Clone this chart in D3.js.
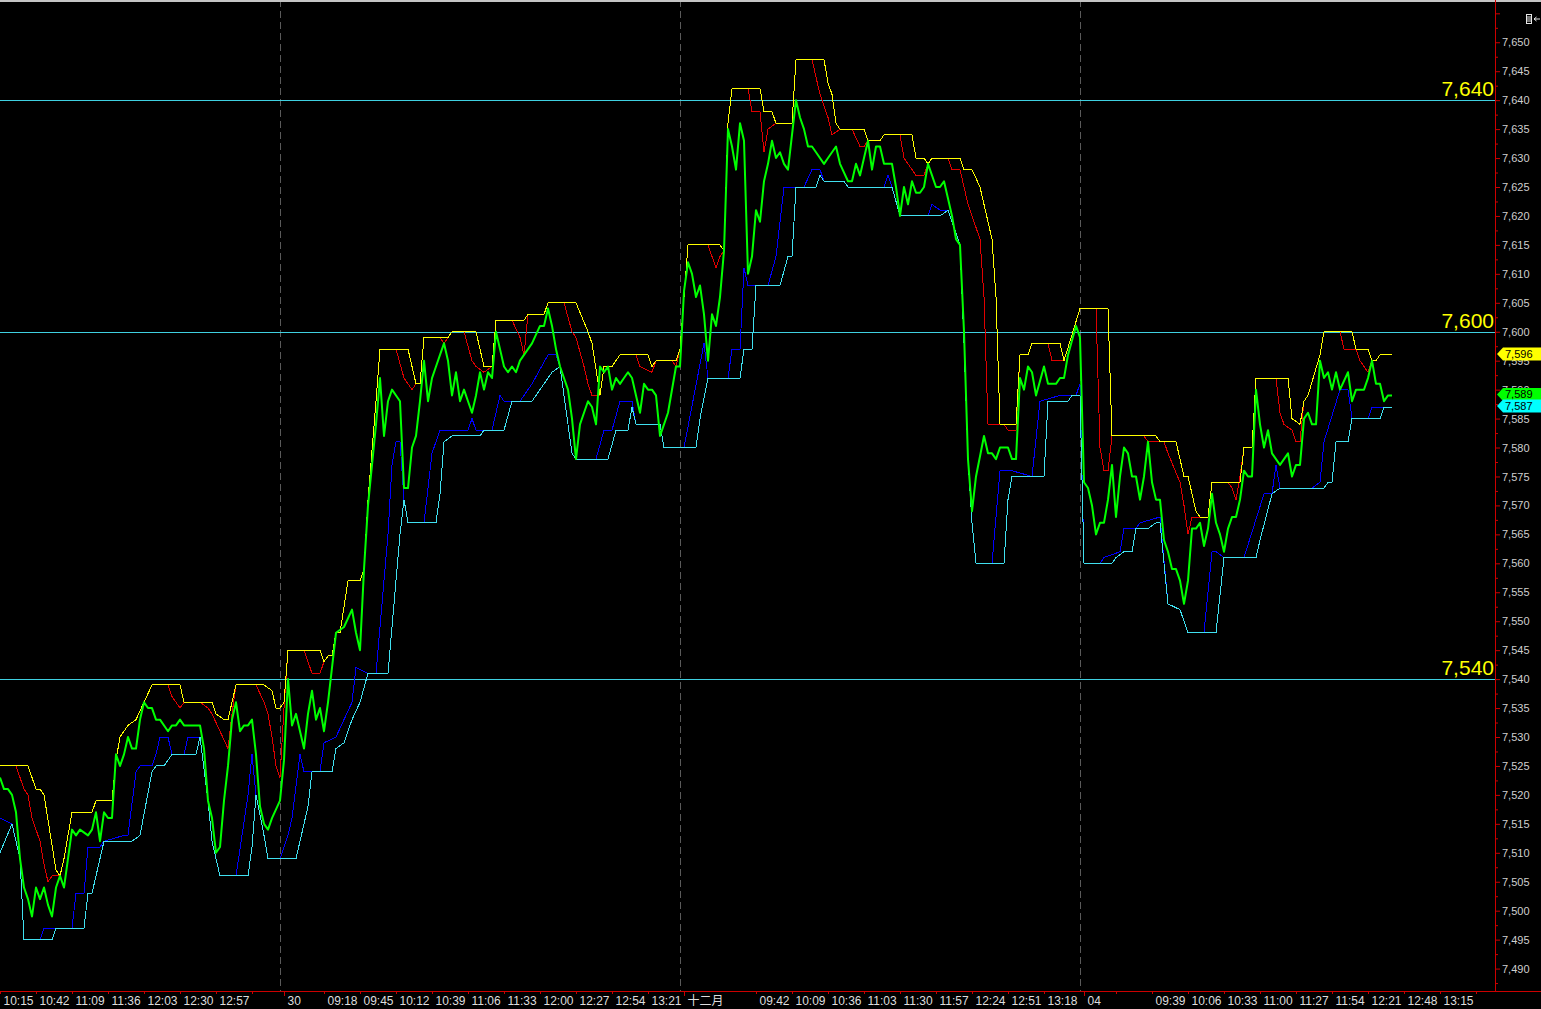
<!DOCTYPE html>
<html><head><meta charset="utf-8">
<script src="https://cdn.jsdelivr.net/npm/d3@7"></script>
<style>html,body{margin:0;padding:0;background:#000;overflow:hidden}</style>
</head><body><svg id="c" width="1541" height="1009"></svg>
<script>
// ---- data: [bar index, value] ; bar 0 = 10:15 on day 1, 3-minute bars ----
const closeSeries = [[0,7523],[1,7521],[2,7521],[3,7520],[4,7517],[5,7509],[6,7504],[7,7502],[8,7499],[9,7504],[10,7502],[11,7504],[12,7501],[13,7499],[14,7504],[15,7506],[16,7504],[17,7509],[18,7514],[19,7513],[20,7514],[22,7513],[23,7514],[24,7517],[25,7512],[26,7517],[27,7516],[28,7516],[29,7527],[30,7525],[31,7527],[32,7530],[33,7528],[34,7528],[35,7533],[36,7536],[37,7535],[38,7535],[39,7533],[40,7533],[42,7531],[43,7532],[44,7532],[45,7533],[46,7532],[47,7532],[49,7532],[50,7532],[51,7528],[52,7519],[53,7516],[54,7510],[55,7511],[56,7519],[57,7525],[58,7533],[59,7536],[60,7531],[61,7532],[62,7532],[63,7533],[64,7527],[65,7518],[66,7515],[67,7514],[68,7516],[70,7519],[71,7526],[72,7540],[73,7532],[74,7534],[75,7531],[76,7528],[77,7534],[78,7538],[79,7533],[80,7535],[81,7531],[82,7536],[83,7542],[84,7548],[86,7549],[88,7552],[89,7548],[90,7545],[91,7559],[92,7570],[94,7584],[95,7592],[96,7582],[97,7588],[98,7590],[100,7588],[101,7573],[102,7573],[103,7580],[104,7582],[105,7588],[106,7595],[107,7588],[108,7592],[109,7594],[110,7596],[111,7598],[112,7595],[113,7589],[114,7593],[115,7588],[116,7590],[117,7588],[118,7586],[119,7589],[120,7593],[121,7590],[122,7593],[123,7592],[124,7600],[125,7597],[126,7594],[127,7593],[128,7594],[129,7593],[130,7595],[132,7597],[133,7598],[135,7601],[136,7601],[137,7604],[138,7601],[139,7597],[140,7594],[142,7590],[143,7585],[144,7578],[145,7584],[146,7586],[147,7588],[148,7587],[149,7584],[150,7594],[151,7593],[152,7594],[153,7590],[154,7592],[155,7591],[156,7592],[157,7593],[158,7592],[159,7589],[160,7586],[161,7591],[162,7590],[163,7590],[164,7589],[165,7582],[166,7584],[167,7586],[169,7594],[170,7594],[171,7607],[172,7612],[173,7610],[174,7606],[175,7608],[176,7603],[177,7595],[178,7603],[179,7601],[180,7606],[181,7614],[182,7635],[183,7632],[184,7628],[185,7636],[186,7633],[187,7610],[188,7613],[189,7621],[190,7619],[191,7626],[192,7629],[193,7633],[194,7630],[195,7631],[196,7629],[197,7628],[198,7634],[199,7640],[200,7637],[201,7635],[202,7632],[203,7632],[204,7631],[206,7629],[207,7630],[209,7632],[210,7629],[212,7626],[213,7626],[214,7629],[215,7627],[216,7630],[217,7633],[218,7628],[219,7632],[220,7632],[221,7629],[223,7629],[224,7625],[225,7620],[226,7625],[227,7622],[228,7626],[229,7624],[230,7624],[231,7625],[232,7629],[233,7627],[234,7625],[235,7625],[236,7626],[237,7623],[238,7620],[239,7616],[240,7615],[241,7600],[242,7578],[243,7569],[244,7575],[246,7582],[247,7579],[248,7579],[249,7578],[250,7580],[252,7580],[253,7578],[254,7578],[255,7592],[256,7590],[257,7594],[258,7593],[259,7589],[261,7594],[262,7591],[264,7591],[265,7592],[266,7592],[267,7596],[269,7601],[270,7599],[271,7574],[272,7573],[273,7570],[274,7565],[275,7567],[276,7567],[277,7571],[278,7577],[279,7568],[280,7575],[281,7580],[282,7579],[283,7575],[284,7575],[285,7571],[286,7575],[287,7581],[288,7574],[289,7571],[290,7571],[291,7564],[292,7562],[293,7559],[294,7559],[295,7557],[296,7553],[297,7557],[298,7566],[299,7566],[300,7567],[301,7563],[302,7566],[303,7572],[304,7567],[305,7565],[306,7562],[307,7566],[308,7568],[309,7568],[310,7571],[311,7576],[312,7575],[313,7575],[314,7590],[315,7584],[316,7580],[317,7583],[318,7579],[319,7578],[320,7577],[322,7579],[323,7575],[324,7577],[325,7577],[326,7585],[327,7586],[328,7584],[329,7584],[330,7595],[331,7592],[332,7593],[333,7590],[334,7593],[335,7590],[337,7593],[338,7588],[339,7590],[341,7590],[342,7592],[343,7595],[344,7591],[345,7591],[346,7588],[347,7589],[348,7589]];

const upperOuter = [[0,7525],[7,7525],[9,7521],[10,7521],[11,7520],[14,7507],[15,7506],[16,7509],[18,7517],[23,7517],[24,7519],[28,7519],[29,7526],[30,7530],[32,7532],[34,7533],[36,7536],[38,7539],[45,7539],[46,7536],[53,7536],[54,7534],[56,7533],[57,7533],[59,7539],[66,7539],[68,7538],[69,7535],[70,7535],[71,7536],[72,7545],[80,7545],[81,7543],[82,7544],[83,7544],[84,7548],[85,7548],[87,7557],[90,7557],[91,7559],[92,7571],[94,7588],[95,7597],[102,7597],[104,7591],[105,7591],[106,7599],[112,7599],[113,7600],[119,7600],[121,7594],[123,7594],[124,7602],[131,7602],[132,7603],[136,7603],[137,7605],[144,7605],[147,7600],[148,7598],[150,7589],[151,7594],[153,7594],[155,7596],[162,7596],[163,7594],[164,7595],[169,7595],[170,7597],[172,7615],[180,7615],[181,7614],[182,7636],[183,7642],[190,7642],[191,7638],[193,7638],[194,7636],[198,7636],[199,7647],[206,7647],[207,7643],[208,7641],[209,7636],[210,7635],[216,7635],[217,7633],[220,7633],[221,7634],[228,7634],[229,7630],[231,7630],[232,7629],[233,7630],[240,7630],[241,7628],[243,7628],[245,7625],[248,7616],[249,7606],[250,7584],[254,7584],[255,7596],[257,7596],[258,7598],[265,7598],[266,7595],[270,7604],[277,7604],[278,7582],[289,7582],[290,7581],[294,7581],[296,7575],[297,7575],[299,7569],[300,7568],[302,7568],[303,7574],[310,7574],[311,7580],[313,7580],[314,7592],[322,7592],[323,7585],[325,7584],[326,7588],[327,7589],[330,7596],[331,7600],[338,7600],[339,7597],[342,7597],[343,7595],[344,7595],[345,7596],[348,7596]];

const upperInner = [[0,7525],[4,7525],[6,7521],[7,7520],[8,7516],[10,7512],[11,7508],[12,7505],[13,7506],[15,7506],[16,7509],[18,7517],[23,7517],[24,7519],[28,7519],[29,7526],[30,7530],[32,7532],[34,7533],[36,7536],[38,7539],[42,7539],[43,7537],[45,7535],[46,7536],[50,7536],[52,7535],[53,7534],[55,7531],[57,7528],[58,7534],[59,7539],[64,7539],[66,7536],[67,7534],[68,7530],[69,7525],[70,7523],[71,7535],[72,7545],[76,7545],[77,7543],[78,7541],[80,7541],[81,7543],[82,7544],[83,7544],[84,7548],[85,7548],[87,7557],[90,7557],[91,7559],[92,7571],[94,7588],[95,7597],[99,7597],[101,7592],[103,7590],[104,7591],[105,7591],[106,7599],[110,7599],[111,7598],[112,7599],[113,7600],[116,7600],[118,7595],[119,7594],[121,7593],[123,7594],[124,7602],[128,7602],[130,7599],[131,7596],[132,7603],[136,7603],[137,7605],[141,7605],[143,7600],[144,7599],[146,7594],[147,7591],[148,7589],[150,7589],[151,7594],[153,7594],[155,7596],[159,7596],[160,7594],[163,7593],[164,7595],[168,7595],[169,7594],[170,7597],[172,7615],[177,7615],[178,7613],[179,7611],[180,7613],[181,7614],[182,7636],[183,7642],[187,7642],[188,7638],[190,7638],[191,7631],[192,7635],[194,7636],[198,7636],[199,7647],[203,7647],[204,7644],[205,7641],[207,7637],[208,7634],[210,7635],[213,7635],[215,7632],[216,7632],[217,7633],[220,7633],[221,7634],[225,7634],[226,7630],[227,7629],[229,7627],[231,7627],[232,7629],[233,7630],[237,7630],[238,7628],[240,7628],[242,7622],[245,7616],[246,7606],[247,7584],[251,7584],[252,7583],[254,7583],[255,7596],[257,7596],[258,7598],[262,7598],[263,7595],[266,7595],[270,7604],[274,7604],[275,7580],[276,7576],[277,7576],[278,7582],[286,7582],[287,7581],[291,7581],[292,7579],[295,7574],[296,7570],[297,7565],[298,7568],[300,7568],[302,7568],[303,7574],[307,7574],[308,7573],[309,7571],[310,7575],[311,7580],[313,7580],[314,7592],[319,7592],[320,7586],[321,7584],[323,7583],[324,7581],[325,7581],[326,7588],[327,7589],[330,7596],[331,7600],[335,7600],[336,7597],[339,7597],[340,7595],[342,7593],[343,7595],[344,7595],[345,7596],[348,7596]];

const lowerOuter = [[0,7510],[3,7515],[5,7509],[6,7495],[13,7495],[14,7497],[21,7497],[22,7503],[23,7503],[25,7509],[26,7512],[33,7512],[35,7513],[38,7524],[39,7525],[41,7525],[43,7527],[49,7527],[50,7530],[52,7519],[53,7512],[55,7506],[62,7506],[63,7511],[64,7520],[66,7513],[67,7509],[74,7509],[75,7512],[77,7518],[78,7524],[83,7524],[84,7528],[86,7529],[88,7533],[90,7536],[92,7541],[97,7541],[100,7565],[101,7571],[102,7567],[109,7567],[110,7572],[111,7581],[113,7582],[120,7582],[121,7583],[126,7583],[128,7588],[133,7588],[138,7593],[140,7594],[143,7579],[144,7578],[152,7578],[154,7583],[157,7583],[158,7587],[159,7584],[165,7584],[166,7580],[174,7580],[175,7585],[177,7592],[185,7592],[186,7597],[188,7597],[189,7608],[195,7608],[197,7613],[198,7613],[199,7625],[204,7625],[205,7627],[206,7626],[211,7626],[212,7625],[223,7625],[225,7620],[235,7620],[237,7621],[240,7615],[241,7598],[242,7578],[243,7567],[244,7560],[251,7560],[252,7571],[253,7575],[261,7575],[262,7588],[267,7588],[268,7589],[270,7589],[271,7560],[278,7560],[279,7561],[281,7562],[283,7562],[284,7566],[287,7566],[289,7567],[290,7567],[292,7553],[295,7552],[297,7548],[304,7548],[306,7561],[314,7561],[315,7564],[318,7572],[320,7573],[331,7573],[332,7574],[333,7574],[334,7581],[337,7581],[338,7585],[345,7585],[346,7587],[348,7587]];

const lowerInner = [[0,7516],[3,7515],[5,7509],[6,7495],[10,7495],[11,7497],[18,7497],[19,7503],[21,7503],[22,7511],[25,7511],[26,7512],[31,7513],[32,7513],[34,7524],[35,7525],[38,7525],[39,7527],[40,7530],[42,7530],[43,7527],[46,7527],[47,7530],[50,7530],[52,7519],[53,7512],[55,7506],[59,7506],[62,7520],[63,7527],[64,7520],[66,7513],[67,7509],[70,7509],[72,7513],[73,7516],[75,7527],[76,7524],[80,7524],[81,7529],[84,7530],[86,7533],[88,7536],[89,7542],[92,7541],[94,7541],[97,7565],[98,7577],[99,7581],[100,7581],[101,7571],[102,7567],[106,7567],[108,7579],[110,7583],[117,7583],[118,7585],[119,7583],[123,7583],[125,7589],[126,7588],[130,7588],[133,7591],[137,7596],[139,7596],[140,7594],[143,7579],[144,7578],[149,7578],[151,7583],[153,7583],[155,7588],[158,7588],[159,7584],[165,7584],[166,7580],[171,7580],[176,7598],[177,7592],[182,7592],[183,7597],[185,7597],[186,7611],[187,7608],[192,7608],[194,7613],[196,7625],[201,7625],[203,7628],[205,7628],[206,7626],[211,7626],[212,7625],[221,7625],[222,7627],[223,7625],[225,7620],[232,7620],[233,7622],[235,7621],[237,7621],[240,7615],[241,7598],[242,7578],[243,7567],[244,7560],[248,7560],[250,7576],[253,7576],[258,7575],[260,7588],[265,7589],[269,7589],[270,7591],[271,7560],[275,7560],[276,7561],[280,7562],[281,7566],[284,7566],[285,7567],[290,7568],[292,7553],[295,7552],[297,7548],[301,7548],[303,7562],[304,7562],[306,7561],[311,7561],[316,7572],[318,7572],[319,7577],[320,7573],[328,7573],[330,7574],[331,7581],[335,7590],[337,7590],[338,7585],[342,7585],[343,7587],[348,7587]];

const refLevels = [7640, 7600, 7540];
const dayBreakBars = [70, 170, 270];
const tickBars = [0,9,18,27,36,45,54,63,71,81,90,99,108,117,126,135,144,153,162,171,189,198,207,216,225,234,243,252,261,271,279,288,297,306,315,324,333,342,351,360,369];
const tickLabels = ["10:15","10:42","11:09","11:36","12:03","12:30","12:57","","30","09:18","09:45","10:12","10:39","11:06","11:33","12:00","12:27","12:54","13:21","十二月","09:42","10:09","10:36","11:03","11:30","11:57","12:24","12:51","13:18","04","","09:39","10:06","10:33","11:00","11:27","11:54","12:21","12:48","13:15",""];
const dayLabelBars = [71, 171, 271];

// ---- layout ----
const W = 1541, H = 1009, plotR = 1495, plotB = 991;
const FONT = "Arial, 'Liberation Sans', 'Noto Sans CJK SC', sans-serif";
const x = d3.scaleLinear().domain([0, 373.75]).range([0, plotR]);
const y = d3.scaleLinear().domain([7486.3, 7657.3]).range([990, 0]);
const fmt = d3.format(",");
const AXIS_RED = "#cc0000";

const svg = d3.select("#c");
svg.append("rect").attr("width", W).attr("height", H).attr("fill", "#000");

const defs = svg.append("defs");
defs.append("clipPath").attr("id", "plot").append("rect").attr("x", 0).attr("y", 0).attr("width", plotR).attr("height", plotB);
defs.append("clipPath").attr("id", "yax").append("rect").attr("x", plotR).attr("y", 0).attr("width", W - plotR).attr("height", plotB);

const plot = svg.append("g").attr("clip-path", "url(#plot)");

// day separators
plot.selectAll("line.day").data(dayBreakBars).join("line")
  .attr("x1", d => Math.round(x(d)) + 0.5).attr("x2", d => Math.round(x(d)) + 0.5)
  .attr("y1", 0).attr("y2", plotB)
  .attr("stroke", "#5a5a5a").attr("stroke-width", 1).attr("stroke-dasharray", "7,4");

// reference levels
plot.selectAll("line.ref").data(refLevels).join("line")
  .attr("x1", 0).attr("x2", plotR)
  .attr("y1", d => Math.round(y(d)) + 0.5).attr("y2", d => Math.round(y(d)) + 0.5)
  .attr("stroke", "#3fd0e0").attr("stroke-width", 1);

const line = d3.line().x(d => x(d[0])).y(d => y(d[1]));
function draw(data, color, w, crisp) {
  plot.append("path").datum(data).attr("d", line)
    .attr("fill", "none").attr("stroke", color).attr("stroke-width", w)
    .attr("stroke-linejoin", "round")
    .style("shape-rendering", crisp ? "crispEdges" : "auto");
}
draw(upperInner, "#e00000", 1, true);
draw(upperOuter, "#ffff00", 1, true);
draw(lowerInner, "#0000ff", 1, true);
draw(lowerOuter, "#40e0f0", 1, true);
draw(closeSeries, "#00ff00", 2, false);

// reference labels
svg.selectAll("text.ref").data(refLevels).join("text")
  .attr("x", plotR - 1).attr("y", d => y(d) - 4)
  .attr("text-anchor", "end").attr("fill", "#ffff00")
  .style("font-family", FONT).style("font-size", "21px")
  .text(d => fmt(d));

// top border
svg.append("rect").attr("x", 0).attr("y", 0).attr("width", W).attr("height", 2).attr("fill", "#c4c4c4");

// ---- y axis (right) ----
const yg = svg.append("g").attr("clip-path", "url(#yax)");
const major = d3.range(7485, 7660, 5);
const minor = d3.range(7487.5, 7660, 5);
yg.append("g").attr("transform", `translate(${plotR},0)`)
  .call(d3.axisRight(y).tickValues(minor).tickSize(3).tickFormat(""))
  .call(g => g.select(".domain").remove())
  .call(g => g.selectAll("line").attr("stroke", AXIS_RED));
yg.append("g").attr("transform", `translate(${plotR},0)`)
  .call(d3.axisRight(y).tickValues(major).tickSize(5).tickPadding(2)
        .tickFormat(d => d === 7655 ? "" : fmt(d)))
  .call(g => g.select(".domain").remove())
  .call(g => g.selectAll("line").attr("stroke", AXIS_RED))
  .call(g => g.selectAll("text").attr("fill", "#cfcfcf")
        .style("font-family", FONT).style("font-size", "11px"));
svg.append("line").attr("x1", plotR + 0.5).attr("x2", plotR + 0.5).attr("y1", 0).attr("y2", plotB)
  .attr("stroke", AXIS_RED).attr("stroke-width", 1);

// ---- x axis ----
const xg = svg.append("g").attr("transform", `translate(0,${plotB})`);
xg.call(d3.axisBottom(x).tickValues(tickBars).tickSize(3).tickPadding(0)
    .tickFormat((d, i) => tickLabels[i]))
  .call(g => g.select(".domain").remove())
  .call(g => g.selectAll("line").attr("stroke", AXIS_RED)
        .attr("y2", d => dayLabelBars.includes(d) ? 5 : 3))
  .call(g => g.selectAll("text").attr("fill", "#dedede")
        .attr("text-anchor", "start").attr("dx", 3).attr("y", 5.5)
        .style("font-family", FONT).style("font-size", "12px"));
svg.append("line").attr("x1", 0).attr("x2", W).attr("y1", plotB + 0.5).attr("y2", plotB + 0.5)
  .attr("stroke", AXIS_RED).attr("stroke-width", 1);

// ---- last value tags ----
const tags = [
  {v: closeSeries[closeSeries.length - 1][1], c: "#00ff00"},
  {v: lowerOuter[lowerOuter.length - 1][1], c: "#00ffff"},
  {v: upperOuter[upperOuter.length - 1][1], c: "#ffff00"}
];
tags.forEach(t => {
  const cy = y(t.v) - 1;
  svg.append("path")
    .attr("d", `M${plotR + 2},${cy} L${plotR + 8},${cy - 6.5} L${W},${cy - 6.5} L${W},${cy + 6.5} L${plotR + 8},${cy + 6.5} Z`)
    .attr("fill", t.c);
  svg.append("text").attr("x", plotR + 10).attr("y", cy + 4)
    .attr("fill", "#000").style("font-family", FONT).style("font-size", "11px")
    .text(fmt(t.v));
});

// top-right small icon (drawn as shapes)
const ic = svg.append("g").attr("transform", "translate(1526,14)");
ic.append("rect").attr("x", 0.5).attr("y", 0.5).attr("width", 5).attr("height", 9).attr("fill", "none").attr("stroke", "#e8e8e8");
[3, 5, 7].forEach(yy => ic.append("line").attr("x1", 1).attr("x2", 5).attr("y1", yy).attr("y2", yy).attr("stroke", "#e8e8e8"));
ic.append("path").attr("d", "M8,5 L14,5 M8,5 L10.5,3 M8,5 L10.5,7").attr("stroke", "#e8e8e8").attr("fill", "none");
</script></body></html>
